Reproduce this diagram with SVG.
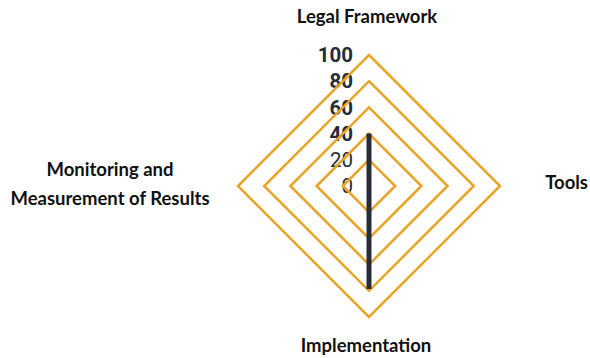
<svg xmlns="http://www.w3.org/2000/svg" width="590" height="358" viewBox="0 0 590 358">
<style>
.grid{fill:none;stroke:#E9A326;stroke-width:2.5}
.axis{font-family:Lato,"Liberation Sans",sans-serif;font-weight:bold;font-size:18.5px;fill:#111}
.tick{font-family:Roboto,"Liberation Sans",sans-serif;font-size:20.5px;fill:#262C3A;text-anchor:end}
.b{font-weight:bold}
.series{fill:none;stroke:#262C3A;stroke-width:5}
</style>
<rect width="590" height="358" fill="#fff"/>
<g id="ticks">
<text class="tick b" x="353" y="62">100</text>
<text class="tick b" x="353" y="88.3">80</text>
<text class="tick b" x="353" y="114.5">60</text>
<text class="tick b" x="353" y="140.7">40</text>
<text class="tick" x="353" y="166.8">20</text>
<text class="tick" x="353" y="193">0</text>
</g>
<g id="grid">
<polygon class="grid" points="369,159.8 395.2,186 369,212.2 342.8,186"/>
<polygon class="grid" points="369,133.6 421.4,186 369,238.4 316.6,186"/>
<polygon class="grid" points="369,107.4 447.6,186 369,264.6 290.4,186"/>
<polygon class="grid" points="369,81.2 473.8,186 369,290.8 264.2,186"/>
<polygon class="grid" points="369,55 500,186 369,317 238,186"/>
</g>
<g id="connectors">
<line class="series" x1="369" y1="133.6" x2="369" y2="289"/>
</g>
<g id="legal-framework"><text class="axis" x="367" y="23" text-anchor="middle">Legal Framework</text></g>
<g id="tools"><text class="axis" x="588" y="189" text-anchor="end">Tools</text></g>
<g id="implementation"><text class="axis" x="366" y="352" text-anchor="middle">Implementation</text></g>
<g id="monitoring"><text class="axis" x="110" y="176" text-anchor="middle">Monitoring and<tspan x="110" y="205">Measurement of Results</tspan></text></g>
</svg>
